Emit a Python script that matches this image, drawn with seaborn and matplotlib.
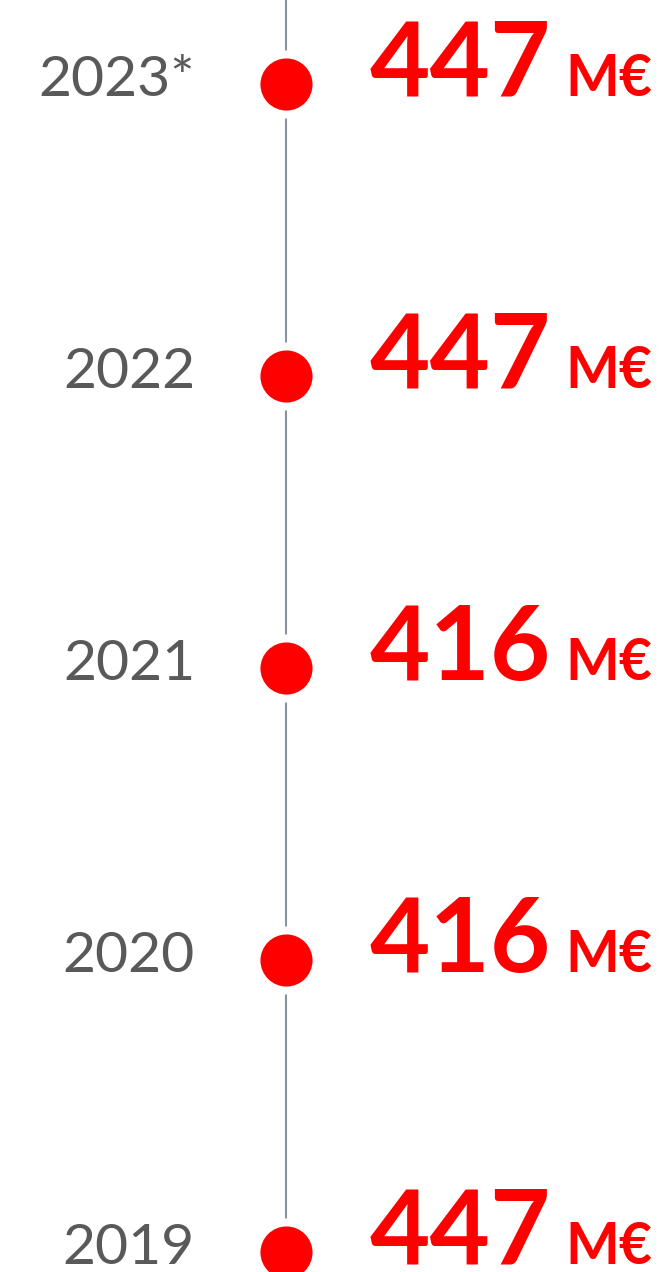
import matplotlib
matplotlib.use("Agg")
import matplotlib.pyplot as plt
import seaborn as sns
import pandas as pd

years = ["2023*", "2022", "2021", "2020", "2019"]
values = [447, 447, 416, 416, 447]
unit = "M€"

sns.set_theme(style="white")
plt.rcParams['font.family'] = ['Lato', 'DejaVu Sans']

df = pd.DataFrame({"year": years, "value": values})
df["row"] = range(len(df))
df["x"] = 286

fig = plt.figure(figsize=(6.6, 12.72), dpi=100)
ax = fig.add_axes([0, 0, 1, 1])
step = 292

# vertical timeline
ax.vlines(286, -1, 10, color="#8a939c", linewidth=1.5, zorder=1)
# white halo gaps around dots
ax.scatter(df["x"], df["row"], s=49**2, color="white", linewidths=0, zorder=2)
sns.scatterplot(data=df, x="x", y="row", s=37.5**2, color="#ff0000",
                linewidth=0, ax=ax, zorder=3, legend=False)
ax.set_xlim(0, 660)
ax.set_ylim((1272 - 84) / step, -84 / step)
ax.axis("off")

for _, r in df.iterrows():
    ax.text(195, r["row"] + 0.042, r["year"], ha="right", va="baseline",
            fontsize=41, color="#595959")
    base = r["row"] + 0.04
    t = ax.text(370, base, str(r["value"]), ha="left", va="baseline",
                fontsize=75, fontweight="bold", color="#ff0000")
    ax.annotate(unit, xy=(1, base), xycoords=(t, "data"), xytext=(14, 0),
                textcoords="offset pixels", ha="left", va="baseline",
                fontsize=41, fontweight="bold", color="#ff0000")

fig.savefig("out.png", dpi=100)
